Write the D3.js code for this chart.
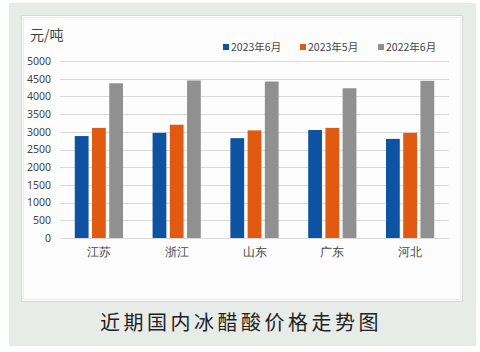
<!DOCTYPE html>
<html>
<head>
<meta charset="utf-8">
<script src="https://cdn.jsdelivr.net/npm/d3@7"></script>
<style>
  body { margin: 0; background: #fff; }
  svg { display: block; font-family: "Noto Sans CJK SC", "Noto Sans", sans-serif; }
</style>
</head>
<body>
<div id="chart"></div>
<script>
// data
const provinces = ["江苏", "浙江", "山东", "广东", "河北"];
const seriesNames = ["2023年6月", "2023年5月", "2022年6月"];
const jun2023 = [2880, 2970, 2820, 3050, 2800];
const may2023 = [3110, 3200, 3040, 3110, 2970];
const jun2022 = [4370, 4450, 4420, 4230, 4440];
const yTicks = [0, 500, 1000, 1500, 2000, 2500, 3000, 3500, 4000, 4500, 5000];

const colors = ["#0e52a2", "#e05a12", "#909090"];
const seriesValues = [jun2023, may2023, jun2022];

const svg = d3.select("#chart")
    .append("svg")
    .attr("width", 480)
    .attr("height", 352);

// outer background
svg.append("rect")
    .attr("x", 9).attr("y", 3)
    .attr("width", 467).attr("height", 343)
    .attr("fill", "#e8ece8");

// inner panel
svg.append("rect")
    .attr("x", 21.5).attr("y", 15.5)
    .attr("width", 441).attr("height", 286)
    .attr("fill", "#fdfdfd")
    .attr("stroke", "#d6d8d6")
    .attr("stroke-width", 1);
svg.append("rect")
    .attr("x", 23.5).attr("y", 17.5)
    .attr("width", 437).attr("height", 282)
    .attr("fill", "none")
    .attr("stroke", "#ececec")
    .attr("stroke-width", 1);

const plot = { left: 60, right: 449, top: 61, bottom: 238 };

const x0 = d3.scaleBand()
    .domain(provinces)
    .range([plot.left, plot.right])
    .paddingInner(0.38)
    .paddingOuter(0.19);

const x1 = d3.scaleBand()
    .domain(seriesNames)
    .range([0, x0.bandwidth()])
    .paddingInner(0.2);

const y = d3.scaleLinear()
    .domain([0, 5000])
    .range([plot.bottom, plot.top]);

// gridlines
svg.append("g")
    .selectAll("line")
    .data(yTicks)
    .join("line")
    .attr("x1", plot.left)
    .attr("x2", plot.right)
    .attr("y1", d => Math.round(y(d)) + 0.5)
    .attr("y2", d => Math.round(y(d)) + 0.5)
    .attr("stroke", "#d9d9d9")
    .attr("stroke-width", 1);

// y axis labels
const yAxis = svg.append("g")
    .attr("transform", `translate(${plot.left},0)`)
    .call(d3.axisLeft(y).tickValues(yTicks).tickSize(0).tickPadding(9).tickFormat(d3.format("d")));
yAxis.select(".domain").remove();
yAxis.selectAll("text")
    .attr("fill", "#444")
    .style("font-family", "'Noto Sans', sans-serif")
    .style("font-size", "10.5px");

// bars
const groups = svg.append("g")
    .selectAll("g")
    .data(provinces)
    .join("g")
    .attr("transform", d => `translate(${x0(d)},0)`);

groups.selectAll("rect")
    .data((p, i) => seriesNames.map((s, j) => ({ s, j, v: seriesValues[j][i] })))
    .join("rect")
    .attr("x", d => x1(d.s))
    .attr("y", d => y(d.v))
    .attr("width", x1.bandwidth())
    .attr("height", d => y(0) - y(d.v))
    .attr("fill", d => colors[d.j]);

// x axis
const xAxis = svg.append("g")
    .attr("transform", `translate(0,${plot.bottom})`)
    .call(d3.axisBottom(x0).tickSize(0).tickPadding(10));
xAxis.select(".domain")
    .attr("stroke", "#d9d9d9");
xAxis.selectAll("text")
    .attr("fill", "#444")
    .style("font-size", "11.5px");

// unit label
svg.append("text")
    .attr("x", 30)
    .attr("y", 40)
    .attr("fill", "#444")
    .style("font-size", "14px")
    .text("元/吨");

// legend
const legendX = [223, 300, 378];
seriesNames.forEach((name, i) => {
    svg.append("rect")
        .attr("x", legendX[i])
        .attr("y", 44)
        .attr("width", 6)
        .attr("height", 6)
        .attr("fill", colors[i]);
    svg.append("text")
        .attr("x", legendX[i] + 8)
        .attr("y", 51)
        .attr("fill", "#444")
        .style("font-size", "10.5px")
        .text(name);
});

// title
svg.append("text")
    .attr("x", 241)
    .attr("y", 330)
    .attr("text-anchor", "middle")
    .attr("fill", "#222")
    .style("font-size", "20px")
    .style("letter-spacing", "3.5px")
    .text("近期国内冰醋酸价格走势图");
</script>
</body>
</html>
